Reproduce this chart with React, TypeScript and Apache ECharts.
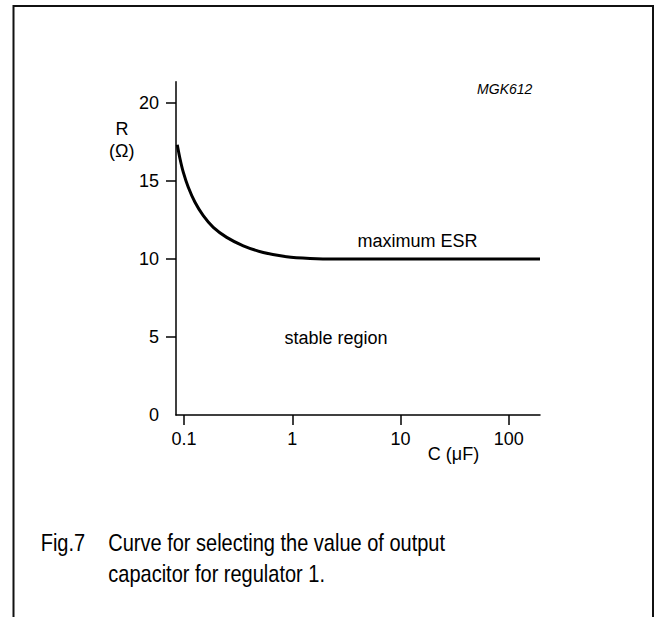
import { useEffect, useRef } from "react";
import * as echarts from "echarts";

// Curve: maximum ESR versus output capacitance
const capacitanceUF = [0.0867, 0.0919, 0.0985, 0.1096, 0.1264, 0.1507, 0.1865, 0.248, 0.353, 0.54, 0.887, 1.46, 2.5, 10, 50, 194];
const esrOhm = [17.33, 16.43, 15.57, 14.6, 13.64, 12.78, 12.03, 11.39, 10.85, 10.42, 10.15, 10.04, 10.0, 10.0, 10.0, 10.0];

const xTickValues = [0.1, 1, 10, 100];
const yTickValues = [5, 10, 15, 20];
const yLabelValues = [0, 5, 10, 15, 20];

const FONT = "'Liberation Sans', Arial, Helvetica, sans-serif";

export default function App() {
  const ref = useRef<HTMLDivElement>(null);

  useEffect(() => {
    if (!ref.current) return;
    const chart = echarts.init(ref.current, undefined, { renderer: "svg" });
    const data = capacitanceUF.map((c, i) => [c, esrOhm[i]]);
    const black = "#000";
    const txt = (text: string, x: number, y: number, size: number, extra: any = {}) => ({
      type: "text",
      x,
      y,
      scaleY: extra.scaleY || 1,
      style: {
        text,
        fill: black,
        font: `${extra.italic ? "italic " : ""}${size}px ${FONT}`,
        textAlign: extra.align || "center",
        textVerticalAlign: "middle",
      },
    });

    chart.setOption({
      animation: false,
      backgroundColor: "#fff",
      grid: { left: 176, right: 115, top: 81.7, bottom: 202 },
      xAxis: {
        type: "log",
        logBase: 10,
        min: 0.0844,
        max: 194,
        axisLine: { show: true, lineStyle: { color: black, width: 1.5 } },
        axisTick: { show: true, length: 10, customValues: xTickValues, lineStyle: { color: black, width: 1.5 } },
        axisLabel: {
          customValues: xTickValues,
          color: black,
          fontSize: 18,
          fontFamily: FONT,
          margin: 15,
          formatter: (v: number) => (v < 1 ? String(Number(v.toPrecision(3))) : String(Math.round(v))),
        },
        splitLine: { show: false },
        minorTick: { show: false },
      },
      yAxis: {
        type: "value",
        min: 0,
        max: 21.37,
        axisLine: { show: true, lineStyle: { color: black, width: 1.5 } },
        axisTick: { show: true, length: 10, customValues: yTickValues, lineStyle: { color: black, width: 1.5 } },
        axisLabel: {
          customValues: yLabelValues,
          color: black,
          fontSize: 18,
          fontFamily: FONT,
          margin: 17,
        },
        splitLine: { show: false },
      },
      series: [
        {
          type: "line",
          data,
          showSymbol: false,
          smooth: 0.3,
          lineStyle: { color: black, width: 3 },
          silent: true,
        },
      ],
      graphic: [
        {
          type: "polyline",
          shape: { points: [[13.5, 617], [13.5, 6], [653, 6], [653, 617]] },
          style: { stroke: "#111", lineWidth: 2, fill: null },
        },
        txt("MGK612", 504.7, 89.2, 14, { italic: true }),
        txt("R", 122, 128.8, 18),
        txt("(\u03A9)", 121.8, 150.5, 18),
        txt("maximum ESR", 417.5, 240.5, 18),
        txt("stable region", 336, 338.4, 18),
        txt("C (\u03BCF)", 453.5, 454, 18),
        txt("Fig.7", 40.7, 543.2, 20, { align: "left", scaleY: 1.22 }),
        txt("Curve for selecting the value of output", 108.3, 543.2, 20, { align: "left", scaleY: 1.22 }),
        txt("capacitor for regulator 1.", 108.3, 573.7, 20, { align: "left", scaleY: 1.22 }),
      ],
    });
    return () => chart.dispose();
  }, []);

  return (
    <div
      ref={ref}
      style={{ position: "absolute", left: 0, top: 0, width: 655, height: 617, background: "#fff" }}
    />
  );
}
